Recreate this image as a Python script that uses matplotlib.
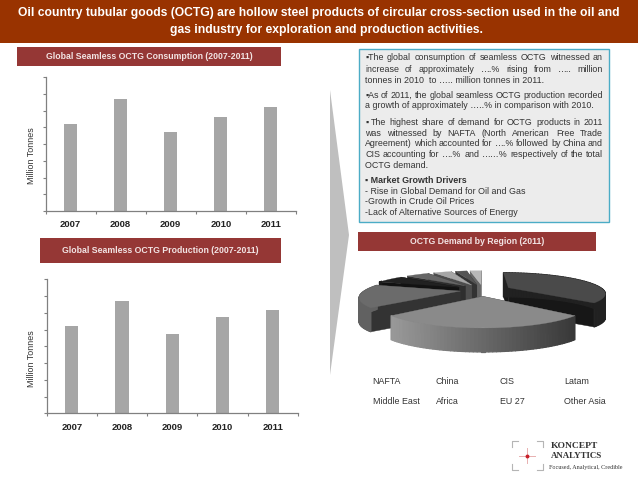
import numpy as np
import matplotlib
matplotlib.use('Agg')
import matplotlib.pyplot as plt
from matplotlib.patches import Polygon, Rectangle

plt.rcParams['font.family'] = ['Liberation Sans', 'DejaVu Sans']

W, H = 638, 479

years = ['2007', '2008', '2009', '2010', '2011']
consumption = [5.17, 6.69, 4.70, 5.63, 6.19]
production = [5.23, 6.73, 4.74, 5.73, 6.17]

regions = ['NAFTA', 'China', 'CIS', 'Latam', 'Middle East', 'Africa', 'EU 27', 'Other Asia']
demand = [37, 26, 17, 6, 5, 4, 2.5, 2.5]
top_grey = [0.29, 0.54, 0.42, 0.13, 0.40, 0.65, 0.33, 0.72]
side_grey = [0.13, 0.50, 0.38, 0.10, 0.28, 0.42, 0.25, 0.50]
edge_grey = [0.09, 0.25, 0.20, 0.07, 0.18, 0.30, 0.20, 0.40]

title_lines = ['Oil country tubular goods (OCTG) are hollow steel products of circular cross-section used in the oil and',
               'gas industry for exploration and production activities.']

# text, justified, bold, y in pixels
box_lines = [
    ('\u25aaThe global consumption of seamless OCTG witnessed an', True, False, 57.7),
    ('increase of approximately ….% rising from  ….. million', True, False, 69),
    ('tonnes in 2010  to ….. million tonnes in 2011.', False, False, 80),
    ('\u25aaAs of 2011, the global seamless OCTG production recorded', True, False, 95.7),
    ('a growth of approximately …..% in comparison with 2010.', False, False, 105.7),
    ('\u25aa The highest share of demand for OCTG products in 2011', True, False, 122),
    ('was witnessed by NAFTA (North American Free Trade', True, False, 133),
    ('Agreement) which accounted for ….% followed by China and', True, False, 143.7),
    ('CIS accounting for ….% and ……% respectively of the total', True, False, 154.3),
    ('OCTG demand.', False, False, 165),
    ('\u25aa Market Growth Drivers', False, True, 180.7),
    ('- Rise in Global Demand for Oil and Gas', False, False, 191),
    ('-Growth in Crude Oil Prices', False, False, 202),
    ('-Lack of Alternative Sources of Energy', False, False, 212.7),
]


def px_axes(fig, left, top, right, bottom):
    return fig.add_axes([left / W, 1 - bottom / H, (right - left) / W, (bottom - top) / H])


def bar_chart(fig, canvas, box, values, label_y, ylabel_x):
    left, top, right, bottom = box
    ax = px_axes(fig, left, top, right, bottom)
    ax.patch.set_alpha(0)
    x = np.arange(len(years))
    ax.bar(x, values, width=0.26, color='#a6a6a6')
    ax.set_xlim(-0.5, 4.5)
    ax.set_ylim(0, 8)
    ax.set_yticks(range(9))
    ax.set_yticklabels([])
    ax.set_xticks(np.arange(-0.5, 5))
    ax.set_xticklabels([])
    ax.tick_params(colors='#808080', length=2.5, width=0.8)
    for s in ['top', 'right']:
        ax.spines[s].set_visible(False)
    for s in ['left', 'bottom']:
        ax.spines[s].set_color('#808080')
        ax.spines[s].set_linewidth(0.9)
    for i, yr in enumerate(years):
        px = left + (i + 0.5) * (right - left) / len(years)
        canvas.text(px, label_y, yr, ha='center', va='center', fontsize=6.8, fontweight='bold', color='#222222')
    canvas.text(ylabel_x, (top + bottom) / 2 + 12, 'Million Tonnes', rotation=90, ha='center', va='center',
                fontsize=6.4, color='#333333')


def banner(canvas, left, top, right, bottom, label):
    canvas.add_patch(Rectangle((left, top), right - left, bottom - top, color='#953735', lw=0))
    canvas.text((left + right) / 2, (top + bottom) / 2, label, color='#f2e4e4', ha='center', va='center',
                fontsize=6.35, fontweight='bold')


def justified(fig, canvas, text, x0, x1, y, bold):
    weight = 'bold' if bold else 'normal'
    renderer = fig.canvas.get_renderer()
    words = text.split()
    widths = []
    for w in words:
        t = canvas.text(0, 0, w, fontsize=6.4, fontweight=weight)
        widths.append(t.get_window_extent(renderer).width)
        t.remove()
    gap = (x1 - x0 - sum(widths)) / (len(words) - 1)
    x = x0
    for w, wd in zip(words, widths):
        canvas.text(x, y, w, fontsize=6.4, fontweight=weight, va='center', color='#333333')
        x += wd + gap


def project(X, Y, z, cx, cy):
    # flat disc seen from the front, back of the disc is smaller
    s = 1 / (1 + 0.25 * Y)
    return cx + 95 * X * s, cy - 19.7 * Y * s + z


def exploded_pie(canvas, values, cx, cy, depth):
    shares = np.array(values, dtype=float)
    edges = np.concatenate([[0], np.cumsum(shares)]) / shares.sum() * 2 * np.pi
    pieces = []
    for i in range(len(shares)):
        mid = (edges[i] + edges[i + 1]) / 2
        pieces.append((np.cos(mid), i, mid))
    # back pieces first
    for _, i, mid in sorted(pieces, reverse=True):
        pull = 0.24 if i == 2 else 0.3
        ex, ey = pull * np.sin(mid), pull * np.cos(mid)
        th = np.linspace(edges[i], edges[i + 1], 60)
        X = ex + np.sin(th)
        Y = ey + np.cos(th)
        tx, ty = project(X, Y, 0, cx, cy)
        bx, by = project(X, Y, depth, cx, cy)
        ax0, ay0 = project(ex, ey, 0, cx, cy)
        ax1, ay1 = project(ex, ey, depth, cx, cy)
        # cut faces
        for k in [0, -1]:
            canvas.add_patch(Polygon([(ax0, ay0), (tx[k], ty[k]), (bx[k], by[k]), (ax1, ay1)],
                                     color=str(edge_grey[i]), lw=0.3, joinstyle='round'))
        # outer wall, shaded from left to right
        for k in range(len(th) - 1):
            if np.cos(th[k]) > 0.35 and i != 0:
                continue
            f = (tx[k] - cx + 90) / 180
            g = side_grey[i] * (1.2 - 0.75 * f) if i == 1 else side_grey[i]
            canvas.add_patch(Polygon([(tx[k], ty[k]), (tx[k + 1], ty[k + 1]), (bx[k + 1], by[k + 1]), (bx[k], by[k])],
                                     color=str(min(g, 1)), lw=0.9, joinstyle='round'))
        canvas.add_patch(Polygon(np.column_stack([np.r_[ax0, tx], np.r_[ay0, ty]]), color=str(top_grey[i]), lw=0.2,
                                 joinstyle='round'))


def main():
    fig = plt.figure(figsize=(W / 100, H / 100), dpi=100, facecolor='white')
    canvas = fig.add_axes([0, 0, 1, 1])
    canvas.set_xlim(0, W)
    canvas.set_ylim(H, 0)
    canvas.axis('off')

    # header
    canvas.add_patch(Rectangle((0, 0), W, 43, color='#993300', lw=0))
    canvas.text(319, 12.5, title_lines[0], color='white', ha='center', va='center', fontsize=8.7, fontweight='bold')
    canvas.text(326, 30, title_lines[1], color='white', ha='center', va='center', fontsize=8.7, fontweight='bold')

    banner(canvas, 17, 47, 281, 66, 'Global Seamless OCTG Consumption (2007-2011)')
    banner(canvas, 39.5, 238, 281, 263, 'Global Seamless OCTG Production (2007-2011)')
    banner(canvas, 358, 232, 596, 251, 'OCTG Demand by Region (2011)')

    bar_chart(fig, canvas, (45.5, 77, 296, 211), consumption, 224, 31)
    bar_chart(fig, canvas, (46.7, 279.3, 297.7, 413.3), production, 427, 32)

    # grey arrow between the two columns
    canvas.add_patch(Polygon([(330, 90), (349, 235), (330, 375)], color='#bfbfbf', lw=0))

    # text box
    canvas.add_patch(Rectangle((359, 48.5), 250, 173.5, facecolor='#ececec', edgecolor='#4bacc6', lw=1))
    for text, just, bold, y in box_lines:
        if just:
            justified(fig, canvas, text, 365, 603, y, bold)
        else:
            canvas.text(365, y, text, fontsize=6.4, va='center', color='#333333',
                        fontweight='bold' if bold else 'normal')

    exploded_pie(canvas, demand, 483, 290, 24)

    # legend text, the swatches are missing in the original
    legend_x = [372.7, 436, 500, 564]
    for i, name in enumerate(regions):
        canvas.text(legend_x[i % 4], 381 if i < 4 else 402, name, fontsize=6.4, va='center', color='#333333')

    # logo
    for sx, sy in [(512, 441), (543, 441), (512, 470), (543, 470)]:
        dx = 6 if sx == 512 else -6
        dy = 6 if sy == 441 else -6
        canvas.plot([sx + dx, sx, sx], [sy, sy, sy + dy], color='#b5b5b5', lw=0.8)
    canvas.plot([519, 535], [455.5, 455.5], color='#e8b0b0', lw=0.7)
    canvas.plot([527, 527], [448, 463], color='#e8b0b0', lw=0.7)
    canvas.plot([527], [455.5], 'o', color='#c8202a', ms=1.8)
    canvas.text(551, 445.7, 'KONCEPT', family='Liberation Serif', fontweight='bold', fontsize=6.8, va='center', color='#333333')
    canvas.text(551, 456, 'ANALYTICS', family='Liberation Serif', fontweight='bold', fontsize=6.4, va='center', color='#333333')
    canvas.text(549, 467.7, 'Focused, Analytical, Credible', family='Liberation Serif', fontsize=4.4, va='center', color='#333333')

    fig.savefig('out.png', dpi=100)


if __name__ == '__main__':
    main()
